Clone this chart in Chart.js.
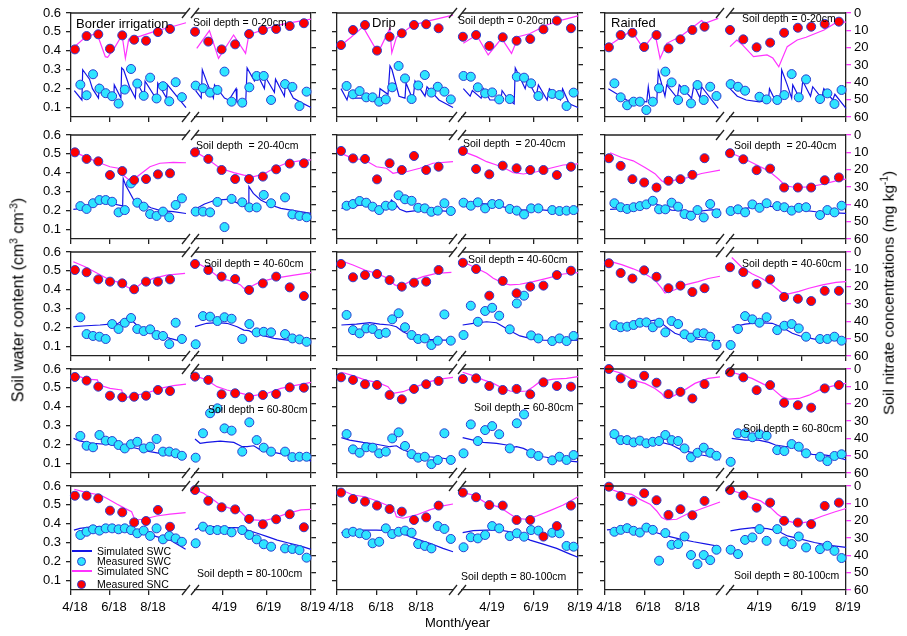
<!DOCTYPE html>
<html>
<head>
<meta charset="utf-8">
<script src="https://cdn.jsdelivr.net/npm/chart.js@4.4.1/dist/chart.umd.min.js"></script>
<style>
  body { margin: 0; background: #fff; }
  #wrap { position: relative; width: 907px; height: 636px; overflow: hidden; font-family: "Liberation Sans", Arial, sans-serif; }
  #wrap canvas { position: absolute; }
  .t { position: absolute; white-space: pre; color: #000; line-height: 1; z-index: 5; }
  .rot { position: absolute; white-space: nowrap; color: #000; line-height: 1; transform: translate(-50%, -50%) rotate(-90deg); z-index: 5; }
  .rot sup { font-size: 0.65em; }
  .swatch { position: absolute; z-index: 5; }
</style>
</head>
<body>
<div id="wrap"></div>
<script>
// ---- axes / categories ----
const TREATMENTS = ['Border irrigation', 'Drip', 'Rainfed'];
const DEPTH_LABELS = ['Soil depth = 0-20cm', 'Soil depth  = 20-40cm', 'Soil depth = 40-60cm', 'Soil depth = 60-80cm', 'Soil depth = 80-100cm'];
const X_TICKS_2018 = [0, 2, 4];
const X_LABELS_2018 = ['4/18', '6/18', '8/18'];
const X_TICKS_2019 = [12, 14, 16];
const X_LABELS_2019 = ['4/19', '6/19', '8/19'];
const SWC_TICKS = [0.1, 0.2, 0.3, 0.4, 0.5, 0.6];
const SNC_TICKS = [0, 10, 20, 30, 40, 50, 60];

// months counted from April 2018
const SWC_DATES_2018 = [0.48, 0.8, 1.13, 1.46, 1.78, 2.11, 2.44, 2.76, 3.08, 3.4, 3.73, 4.06, 4.39, 4.72, 5.04, 5.37, 5.69];
const SWC_DATES_2019 = [10.8, 11.13, 11.45, 11.78, 12.1, 12.42, 12.9, 13.22, 13.55, 13.87, 14.2, 14.83, 15.16, 15.48, 15.8];
const SNC_DATES_2018 = [0.2, 0.8, 1.4, 2.0, 2.63, 3.24, 3.85, 4.46, 5.08];
const SNC_DATES_2019 = [10.77, 11.37, 11.97, 12.58, 13.21, 13.83, 14.43, 15.04, 15.68];

// ---- measured soil water content (cm3 cm-3), one row per depth ----
const BORDER_SWC_MEAS_18 = [
  [0.221, 0.165, 0.276, 0.2, 0.176, 0.16, 0.121, 0.195, 0.304, 0.227, 0.162, 0.258, 0.148, 0.213, 0.133, 0.234, 0.155],
  [0.224, 0.209, 0.239, 0.256, 0.256, 0.247, 0.191, 0.203, 0.344, 0.242, 0.221, 0.182, 0.172, 0.195, 0.165, 0.23, 0.265],
  [0.255, 0.166, 0.156, 0.152, 0.14, 0.219, 0.193, 0.226, 0.251, 0.193, 0.182, 0.191, 0.161, 0.156, 0.113, 0.226, 0.14],
  [0.246, 0.194, 0.186, 0.251, 0.221, 0.219, 0.198, 0.18, 0.202, 0.215, 0.18, 0.189, 0.23, 0.163, 0.163, 0.154, 0.141],
  [0.341, 0.358, 0.371, 0.364, 0.376, 0.376, 0.371, 0.376, 0.367, 0.35, 0.364, 0.336, 0.376, 0.318, 0.336, 0.323, 0.305]
];
const BORDER_SWC_MEAS_19 = [
  [0.216, 0.202, 0.179, 0.193, 0.29, 0.131, 0.126, 0.207, 0.267, 0.267, 0.14, 0.224, 0.209, 0.108, 0.184],
  [0.195, 0.195, 0.191, 0.246, 0.113, 0.262, 0.244, 0.217, 0.217, 0.283, 0.239, 0.27, 0.18, 0.172, 0.165],
  [0.112, 0.261, 0.258, 0.235, 0.255, 0.247, 0.14, 0.219, 0.175, 0.178, 0.175, 0.166, 0.143, 0.138, 0.125],
  [0.131, 0.26, 0.366, 0.392, 0.286, 0.274, 0.163, 0.318, 0.224, 0.184, 0.163, 0.163, 0.134, 0.136, 0.136],
  [0.297, 0.385, 0.367, 0.367, 0.367, 0.355, 0.367, 0.341, 0.318, 0.292, 0.279, 0.27, 0.267, 0.261, 0.221]
];
const DRIP_SWC_MEAS_18 = [
  [0.214, 0.17, 0.187, 0.154, 0.154, 0.131, 0.143, 0.207, 0.32, 0.254, 0.145, 0.217, 0.272, 0.179, 0.21, 0.184, 0.143],
  [0.226, 0.235, 0.251, 0.242, 0.221, 0.203, 0.226, 0.226, 0.281, 0.26, 0.252, 0.215, 0.212, 0.194, 0.2, 0.239, 0.198],
  [0.267, 0.187, 0.17, 0.196, 0.193, 0.166, 0.173, 0.244, 0.276, 0.202, 0.161, 0.14, 0.143, 0.108, 0.131, 0.27, 0.131],
  [0.256, 0.175, 0.157, 0.186, 0.184, 0.154, 0.163, 0.233, 0.265, 0.193, 0.15, 0.131, 0.136, 0.097, 0.119, 0.26, 0.119],
  [0.35, 0.358, 0.35, 0.341, 0.297, 0.305, 0.376, 0.346, 0.358, 0.364, 0.353, 0.293, 0.283, 0.27, 0.388, 0.373, 0.32]
];
const DRIP_SWC_MEAS_19 = [
  [0.267, 0.263, 0.207, 0.175, 0.18, 0.143, 0.145, 0.263, 0.258, 0.228, 0.161, 0.172, 0.166, 0.108, 0.179],
  [0.242, 0.226, 0.244, 0.212, 0.235, 0.235, 0.209, 0.2, 0.18, 0.212, 0.212, 0.203, 0.198, 0.2, 0.203],
  [0.161, 0.316, 0.231, 0.288, 0.305, 0.263, 0.191, 0.328, 0.369, 0.159, 0.143, 0.129, 0.143, 0.129, 0.156],
  [0.154, 0.307, 0.219, 0.277, 0.298, 0.255, 0.18, 0.313, 0.36, 0.154, 0.14, 0.117, 0.136, 0.119, 0.145],
  [0.276, 0.329, 0.323, 0.341, 0.388, 0.376, 0.335, 0.35, 0.332, 0.367, 0.364, 0.353, 0.35, 0.283, 0.279]
];
const RAIN_SWC_MEAS_18 = [
  [0.228, 0.154, 0.112, 0.131, 0.131, 0.087, 0.131, 0.202, 0.29, 0.233, 0.14, 0.193, 0.122, 0.219, 0.14, 0.21, 0.161],
  [0.239, 0.218, 0.209, 0.218, 0.224, 0.233, 0.252, 0.207, 0.207, 0.242, 0.221, 0.182, 0.173, 0.203, 0.164, 0.235, 0.186],
  [0.214, 0.202, 0.205, 0.214, 0.226, 0.228, 0.202, 0.226, 0.175, 0.235, 0.219, 0.165, 0.147, 0.17, 0.17, 0.152, 0.108],
  [0.256, 0.224, 0.224, 0.212, 0.221, 0.207, 0.215, 0.219, 0.251, 0.224, 0.219, 0.18, 0.133, 0.157, 0.184, 0.157, 0.141],
  [0.358, 0.368, 0.377, 0.363, 0.354, 0.38, 0.368, 0.205, 0.351, 0.289, 0.293, 0.333, 0.235, 0.187, 0.235, 0.208, 0.263]
];
const RAIN_SWC_MEAS_19 = [
  [0.224, 0.21, 0.189, null, 0.157, 0.143, 0.14, 0.166, 0.277, 0.154, 0.249, 0.145, 0.175, 0.119, 0.193],
  [0.198, 0.207, 0.191, 0.233, 0.215, 0.239, 0.224, 0.218, 0.2, 0.215, 0.218, 0.177, 0.203, 0.191, 0.226],
  [0.108, 0.193, 0.261, 0.244, 0.226, 0.255, 0.187, 0.21, 0.219, 0.196, 0.152, 0.14, 0.14, 0.152, 0.131],
  [0.109, 0.26, 0.26, 0.239, 0.255, 0.247, 0.171, 0.166, 0.203, 0.189, 0.154, 0.136, 0.113, 0.14, 0.149],
  [0.263, 0.24, 0.315, 0.328, 0.372, 0.31, 0.372, 0.307, 0.293, 0.333, 0.275, 0.266, 0.284, 0.257, 0.219]
];

// ---- measured soil nitrate (mg kg-1) ----
const BORDER_SNC_MEAS_18 = [
  [21, 13.3, 12.3, 20.6, 12.9, 15.4, 16, 11, 9.2],
  [10, 13.8, 15.2, 23.1, 20.8, 26, 25.4, 22.7, 22.1],
  [10.4, 11.7, 15.8, 17.1, 18.1, 21.5, 17.1, 17.1, 15.8],
  [4.6, 6.7, 10.2, 15.4, 16.3, 16, 15.4, 12.1, 12.7],
  [5.6, 5.6, 7.1, 14.2, 15.2, 21, 20.2, 13.8, 23.5]
];
const BORDER_SNC_MEAS_19 = [
  [10.8, 16.5, 21, 18.1, 12.1, 9.8, 9.2, 7.5, 5.9],
  [10, 13.8, 20.2, 25.4, 25.4, 24, 19.8, 16.5, 16.3],
  [6.9, 10.4, 14.2, 15.6, 21.9, 18.1, 14.2, 20.4, 25.4],
  [4.4, 6.3, 14.6, 14, 16.3, 15, 14.4, 10.6, 10.8],
  [2.3, 8.5, 12.3, 13.5, 19, 22.1, 19.2, 16.3, 23.8]
];
const DRIP_SNC_MEAS_18 = [
  [18.5, 9.8, 6.9, 21.7, 13.7, 11.7, 6.9, 6.5, 8.8],
  [9.2, 13.5, 13.8, 25.6, 16.3, 20.2, 12.1, 20.2, 18.3],
  [6.9, 14.6, 13.3, 12.7, 16.2, 20, 17.7, 17.1, 10.4],
  [4.8, 6.3, 8.8, 9.2, 15, 17.5, 11.5, 8.8, 6.9],
  [3.8, 7.5, 9, 11.3, 13.3, 14.8, 19.6, 18.1, 11.3]
];
const DRIP_SNC_MEAS_19 = [
  [13.7, 12.7, 19, 14, 16, 15, 9.4, 4.4, 8.8],
  [9.2, 19.6, 22.7, 17.7, 19.2, 20.2, 20.2, 23.1, 18.3],
  [6.2, 9.8, 25.2, 16.7, 23.8, 20, 19.4, 13.3, 10.8],
  [5.8, 5.4, 9.8, 12.1, 11.5, 14.6, 7.7, 9.8, 10.2],
  [3.8, 6.5, 11, 11.3, 19.6, 19.6, 29.2, 23.1, 11.3]
];
const RAIN_SNC_MEAS_18 = [
  [19.8, 12.7, 11.4, 19.6, 12.7, 20.4, 15.2, 9.8, 7.9],
  [13.4, 17.8, 25.5, 27.4, 30.3, 26.4, 25.5, 23, 13.4],
  [6.5, 12.1, 15.3, 10.6, 14.3, 20.9, 19.4, 23.1, 20.9],
  [0, 5.4, 8.7, 3.9, 7.9, 14.5, 13.2, 17, 8.7],
  [0.4, 5.8, 9, 4.2, 8.2, 16.7, 13.4, 16.9, 8.6]
];
const RAIN_SNC_MEAS_19 = [
  [9.8, 15.2, 19.8, 17.1, 11.4, 8.5, 7.9, 6.3, 5.0],
  [10.5, 14, 20.3, 19.4, 30.3, 30.3, 30.3, 26.1, 24.5],
  [8.8, 11.6, 18.4, 15.8, 25.9, 27, 28.3, 22.4, 22.4],
  [1.9, 4.8, 12.2, 9.3, 19.5, 20.9, 22.3, 11.2, 9.3],
  [2.3, 5.4, 12.5, 9.6, 20.1, 21.1, 22.0, 11.5, 9.6]
];

// ---- simulated SWC, [month, value] ----
const BORDER_SWC_SIM_18 = [
  [[0.17,0.19],[0.56,0.14],[0.6,0.3],[0.95,0.25],[1.1,0.2],[1.41,0.15],[1.45,0.22],[1.7,0.17],[2.19,0.14],[2.22,0.22],[2.56,0.15],[2.6,0.31],[2.7,0.3],[3.0,0.21],[3.3,0.15],[3.35,0.24],[3.76,0.16],[3.8,0.24],[4.41,0.14],[4.45,0.23],[4.9,0.15],[4.95,0.22],[5.9,0.1]],
  [[0.12,0.207],[0.8,0.215],[1.5,0.24],[2.2,0.235],[2.65,0.225],[2.68,0.37],[2.8,0.335],[3.2,0.26],[3.55,0.245],[4.1,0.215],[4.6,0.2],[5.25,0.195],[5.9,0.185]],
  [[0.12,0.205],[0.8,0.21],[1.49,0.214],[2.0,0.219],[2.43,0.223],[2.68,0.24],[3.03,0.258],[3.2,0.231],[3.54,0.196],[4.05,0.178],[4.56,0.161],[5.08,0.143],[5.76,0.125]],
  [[0.13,0.233],[0.43,0.219],[1.11,0.207],[1.8,0.202],[2.48,0.194],[3.0,0.189],[3.5,0.177],[4.05,0.163],[4.56,0.154],[5.25,0.141],[5.9,0.128]],
  [[0.15,0.367],[0.46,0.376],[1.14,0.385],[1.83,0.385],[2.51,0.378],[3.2,0.364],[3.71,0.353],[4.39,0.332],[5.08,0.314],[5.88,0.265]]
];
const BORDER_SWC_SIM_19 = [
  [[10.8,0.19],[11.05,0.15],[11.1,0.3],[11.35,0.22],[11.6,0.15],[11.65,0.22],[12.1,0.15],[12.3,0.14],[12.62,0.2],[12.66,0.13],[13.05,0.11],[13.12,0.31],[13.45,0.24],[13.6,0.27],[13.9,0.2],[13.95,0.26],[14.35,0.18],[14.4,0.25],[14.8,0.16],[14.85,0.23],[15.2,0.15],[15.5,0.13],[16,0.1]],
  [[10.77,0.207],[11.2,0.235],[11.7,0.256],[12.21,0.26],[12.6,0.245],[12.97,0.224],[13.17,0.222],[13.2,0.327],[13.4,0.291],[13.73,0.256],[14.18,0.23],[14.64,0.212],[15.24,0.2],[16,0.186]],
  [[10.77,0.205],[11.3,0.223],[11.76,0.226],[12.21,0.223],[12.67,0.205],[12.97,0.187],[13.2,0.184],[13.42,0.17],[13.73,0.161],[14.33,0.143],[14.94,0.134],[15.55,0.125],[16,0.12]],
  [[10.77,0.23],[11.0,0.207],[11.3,0.212],[11.91,0.219],[12.52,0.212],[12.9,0.189],[13.12,0.189],[13.42,0.194],[13.73,0.171],[14.33,0.159],[14.94,0.145],[15.55,0.136],[16,0.113]],
  [[10.77,0.367],[11.0,0.385],[11.61,0.385],[12.21,0.381],[12.82,0.379],[13.2,0.364],[13.58,0.35],[14.03,0.332],[14.48,0.314],[14.94,0.3],[15.55,0.282],[16,0.265]]
];
const DRIP_SWC_SIM_18 = [
  [[0.2,0.2],[0.5,0.14],[0.6,0.18],[0.8,0.15],[1.3,0.15],[2.1,0.14],[2.15,0.2],[2.55,0.17],[2.65,0.32],[2.75,0.3],[3.1,0.16],[3.4,0.15],[3.45,0.23],[3.8,0.14],[3.9,0.24],[4.4,0.16],[4.5,0.21],[5.1,0.14],[5.8,0.1]],
  [[0.22,0.212],[0.8,0.224],[1.3,0.23],[1.8,0.218],[2.14,0.207],[2.55,0.218],[2.72,0.256],[2.89,0.239],[3.14,0.207],[3.47,0.194],[3.97,0.2],[4.64,0.203],[5.14,0.2],[5.8,0.193]],
  [[0.22,0.214],[0.97,0.219],[1.64,0.226],[2.14,0.219],[2.64,0.214],[2.97,0.205],[3.3,0.178],[3.64,0.161],[4.14,0.149],[4.64,0.138],[5.3,0.134],[5.8,0.134]],
  [[0.22,0.237],[0.63,0.224],[1.3,0.212],[1.97,0.202],[2.64,0.189],[2.97,0.194],[3.22,0.177],[3.64,0.159],[4.14,0.145],[4.64,0.136],[5.3,0.128],[5.8,0.119]],
  [[0.22,0.353],[0.8,0.364],[1.3,0.367],[1.97,0.367],[2.64,0.364],[3.14,0.358],[3.64,0.332],[4.14,0.314],[4.64,0.297],[5.3,0.27],[5.8,0.252]]
];
const DRIP_SWC_SIM_19 = [
  [[10.79,0.2],[11.1,0.16],[11.2,0.19],[11.6,0.15],[11.7,0.2],[12.0,0.14],[12.5,0.14],[12.55,0.19],[12.85,0.14],[13.1,0.12],[13.15,0.31],[13.4,0.25],[13.6,0.2],[13.7,0.25],[14.1,0.16],[14.2,0.22],[14.6,0.14],[14.7,0.2],[15.2,0.14],[15.3,0.2],[15.6,0.12],[16,0.1]],
  [[10.79,0.23],[11.39,0.239],[11.99,0.235],[12.45,0.224],[12.91,0.212],[13.52,0.203],[14.12,0.207],[14.73,0.2],[15.33,0.2],[16,0.203]],
  [[10.76,0.214],[11.24,0.223],[11.85,0.231],[12.3,0.226],[12.61,0.205],[12.91,0.184],[13.36,0.156],[13.82,0.143],[14.42,0.134],[15.33,0.131],[16,0.134]],
  [[10.76,0.237],[11.24,0.224],[11.7,0.212],[12.3,0.207],[12.76,0.198],[12.98,0.184],[13.21,0.189],[13.52,0.18],[13.82,0.163],[14.42,0.136],[15.03,0.124],[15.64,0.113],[16,0.109]],
  [[10.76,0.353],[11.24,0.364],[11.85,0.367],[12.45,0.367],[12.91,0.358],[13.36,0.341],[13.82,0.314],[14.42,0.293],[15.03,0.27],[15.64,0.24],[16,0.223]]
];
const RAIN_SWC_SIM_18 = [
  [[0.17,0.2],[1.11,0.14],[2.13,0.13],[2.21,0.21],[2.3,0.14],[2.64,0.13],[2.72,0.29],[3.06,0.16],[3.15,0.22],[3.69,0.15],[3.79,0.22],[4.42,0.15],[4.54,0.22],[4.85,0.15],[4.93,0.21],[5.78,0.096]],
  [[0.26,0.207],[1.2,0.212],[2.04,0.224],[2.55,0.239],[2.89,0.221],[3.4,0.203],[3.91,0.2],[4.59,0.194],[5.27,0.203],[5.87,0.207]],
  [[0.26,0.214],[1.2,0.219],[2.04,0.231],[2.55,0.24],[2.89,0.223],[3.23,0.196],[3.57,0.17],[4.08,0.152],[4.76,0.138],[5.27,0.134],[5.87,0.131]],
  [[0.26,0.242],[0.85,0.219],[1.53,0.212],[2.21,0.212],[2.89,0.212],[3.4,0.198],[3.91,0.171],[4.42,0.159],[4.93,0.145],[5.44,0.136],[5.87,0.119]],
  [[0.1,0.368],[0.77,0.375],[1.46,0.372],[2.13,0.375],[2.47,0.358],[3.15,0.336],[3.84,0.319],[4.52,0.305],[5.19,0.293],[5.87,0.28]]
];
const RAIN_SWC_SIM_19 = [
  [[10.77,0.2],[11.1,0.16],[11.5,0.14],[12.1,0.13],[12.5,0.14],[12.55,0.2],[12.8,0.14],[13.05,0.13],[13.1,0.3],[13.35,0.22],[13.55,0.15],[13.6,0.22],[13.95,0.14],[14.05,0.24],[14.4,0.16],[14.5,0.21],[14.9,0.15],[15.0,0.2],[15.4,0.14],[15.5,0.17],[16,0.095]],
  [[10.77,0.207],[11.45,0.212],[12.21,0.224],[12.82,0.221],[13.42,0.212],[14.03,0.203],[14.64,0.194],[15.24,0.189],[16,0.186]],
  [[10.85,0.202],[11.45,0.219],[12.06,0.226],[12.67,0.223],[13.12,0.202],[13.58,0.17],[14.03,0.152],[14.64,0.138],[15.24,0.134],[16,0.131]],
  [[10.85,0.233],[11.45,0.224],[12.06,0.224],[12.52,0.212],[12.82,0.198],[13.27,0.189],[13.58,0.189],[14.03,0.163],[14.48,0.149],[15.09,0.145],[15.55,0.136],[16,0.119]],
  [[10.79,0.363],[11.24,0.372],[11.85,0.38],[12.45,0.375],[12.91,0.363],[13.36,0.336],[13.97,0.319],[14.58,0.301],[15.18,0.287],[16,0.275]]
];

// ---- simulated SNC, [month, value] ----
const BORDER_SNC_SIM_18 = [
  [[0,21.3],[0.73,14],[1.33,11.7],[1.76,25.2],[1.88,25.6],[2.27,19.4],[2.62,12.7],[2.79,26.1],[2.96,15.2],[3.56,13.3],[4.41,10.2],[5.09,8.2],[5.9,5.6]],
  [[0.12,9.6],[0.72,12.5],[1.32,15.4],[2.0,18.3],[2.43,19.2],[2.68,23.1],[2.94,25.6],[3.28,25],[3.62,22.1],[4.05,18.3],[4.56,16.3],[5.25,15.8],[5.9,16]],
  [[0.12,5.6],[0.72,8.5],[1.35,12.3],[2,16.2],[2.68,18.1],[2.86,20],[3.2,21.9],[3.62,18.1],[4.22,15.2],[4.91,13.3],[5.85,12.3]],
  [[0.12,3.1],[0.8,5.8],[1.35,6.3],[1.45,9.2],[2.0,11.2],[2.6,12.1],[2.72,16.9],[3.2,15.4],[3.88,14],[4.56,11.2],[5.25,9.6],[5.9,8.7]],
  [[0.17,1.9],[0.8,3.8],[1.5,5.2],[1.83,7.1],[2.35,10.4],[2.77,12.9],[3.11,14.8],[3.28,19.6],[3.71,19.2],[4.39,17.3],[5.08,16.2],[5.88,15.4]]
];
const BORDER_SNC_SIM_19 = [
  [[10.85,20.4],[11.42,10.2],[11.83,26.2],[12.51,12.7],[13.05,23.3],[13.2,12.5],[14.03,8.8],[14.79,6.3],[16,3.5]],
  [[10.77,9.6],[11.3,13.5],[11.9,19.2],[12.52,21.7],[12.97,23.1],[13.42,24],[13.88,22.5],[14.33,19.2],[14.94,16],[15.55,14.8],[16,14.4]],
  [[10.77,5.6],[11.3,9.4],[11.61,12.3],[11.91,15.2],[12.52,17.1],[12.82,19],[12.97,21],[13.27,20],[13.73,17.1],[14.33,15.2],[15.24,13.3],[16,11.9]],
  [[10.77,3.8],[11.3,6.3],[11.76,10.2],[12.21,12.1],[12.67,13.5],[13.05,14.6],[13.42,15.4],[14.03,14],[14.64,11.2],[15.24,9.6],[16,7.7]],
  [[10.8,2.3],[11.15,4.2],[11.61,8.1],[11.91,11],[12.36,12.9],[12.74,13.8],[13.05,17.7],[13.42,19.6],[13.88,20],[14.33,18.6],[14.94,15.8],[15.55,13.8],[16,13.5]]
];
const DRIP_SNC_SIM_18 = [
  [[0.05,20],[0.7,14],[1.3,8],[2.05,23],[2.64,9],[2.74,23],[2.97,14],[3.8,7],[4.64,4.4],[5.8,1.2]],
  [[0.1,10.2],[0.8,13.5],[1.39,14.4],[1.97,18.3],[2.47,19.2],[2.8,22.1],[2.97,21.7],[3.47,21.2],[4.14,19.2],[4.8,16.3],[5.8,15.4]],
  [[0.1,4.6],[0.8,7.5],[1.39,10.4],[1.97,12.3],[2.55,15.2],[2.89,19],[3.14,20],[3.64,17.1],[4.3,14.2],[4.97,12.3],[5.72,11.7]],
  [[0.22,1.9],[0.8,3.8],[1.39,6.3],[1.8,7.3],[2.14,8.3],[2.55,10.2],[2.8,14],[3.3,13.1],[3.97,10.2],[4.64,7.3],[5.14,5.8],[5.8,4.8]],
  [[0.22,2.3],[0.8,5.2],[1.39,6.2],[1.97,8.5],[2.47,11],[2.89,14.8],[2.97,17.7],[3.3,18.6],[3.97,16.7],[4.64,13.8],[5.3,11.5],[5.8,10.4]]
];
const DRIP_SNC_SIM_19 = [
  [[10.79,17.5],[11.39,12.7],[11.92,24.2],[12.53,14.6],[12.98,23.3],[13.29,13.7],[13.8,12],[14.58,6.9],[15.3,4],[16,1.7]],
  [[10.79,9.6],[11.39,12.5],[11.85,15.4],[12.3,17.3],[12.76,19.8],[13.06,21.7],[13.52,22.5],[14.12,21.2],[14.73,19.2],[15.33,17.3],[16,16.7]],
  [[10.76,5.6],[11.39,9.4],[11.85,12.3],[12.15,15.2],[12.61,18.1],[12.91,19],[13.36,18.6],[13.97,17.1],[14.58,15.2],[15.33,12.7],[16,11.9]],
  [[10.76,1.9],[11.24,3.8],[11.7,6.3],[12.15,8.3],[12.45,10.2],[12.91,12.7],[13.21,13.1],[13.67,12.7],[13.97,10.2],[14.27,7.3],[14.88,5.8],[15.48,5.4],[16,4.4]],
  [[10.76,3.8],[11.24,5.2],[11.85,10],[12.45,12.3],[12.91,16.2],[13.21,18.6],[13.67,19.2],[14.12,17.3],[14.73,14.2],[15.33,11],[16,6.2]]
];
const RAIN_SNC_SIM_18 = [
  [[0,20.4],[0.7,15],[1.36,10.2],[1.95,20.4],[2.55,11.7],[2.81,26.2],[3.15,17.5],[3.83,13.7],[4.4,9],[4.93,4.4],[5.1,6],[5.78,3.1]],
  [[0.26,10.2],[0.85,13],[1.44,14.9],[2.04,18.8],[2.55,22.3],[2.89,26.4],[3.06,27.4],[3.57,26],[4.25,24.5],[4.93,22.2],[5.87,20.3]],
  [[0.26,5.4],[0.85,7.3],[1.44,9.7],[2.04,12.5],[2.55,16.2],[2.89,20.9],[3.06,23.7],[3.57,21.8],[4.08,19],[4.76,17.1],[5.27,15.3],[5.87,14]],
  [[0.26,0.6],[0.85,2.5],[1.44,6.4],[2.04,8.3],[2.55,11.2],[2.89,14.1],[3.06,16.6],[3.4,16.1],[3.91,13.2],[4.59,8.3],[5.27,5.4],[5.87,4.5]],
  [[0.09,1],[0.77,3.8],[1.36,4.8],[1.79,7.7],[2.3,10.5],[2.64,14.4],[2.89,18.2],[3.15,19.5],[3.66,19.2],[4.17,16.3],[4.85,13.4],[5.87,9.2]]
];
const RAIN_SNC_SIM_19 = [
  [[10.77,19.4],[11.08,15.6],[11.3,18],[11.83,25.2],[12.44,24.2],[12.7,26],[12.97,31],[13.35,19.4],[13.8,15.6],[14.2,14],[15.01,9.8],[15.62,5],[16,5.3]],
  [[10.77,10.2],[11.3,13],[11.91,16.9],[12.51,20.7],[12.97,25.5],[13.27,29.3],[13.73,30.3],[14.33,29.9],[14.94,28.4],[15.55,26.5],[16,25.5]],
  [[10.85,3.2],[11.3,8.8],[11.76,12.5],[12.21,15.3],[12.67,19],[13.12,23.7],[13.42,24.2],[13.88,22.7],[14.33,20.9],[14.94,19],[15.55,17.5],[16,17.1]],
  [[10.85,1.9],[11.3,3.5],[11.76,5.4],[12.21,8.3],[12.67,11.2],[13.12,16.1],[13.42,17.4],[13.88,17],[14.33,15.1],[14.79,12.2],[15.24,10.3],[15.7,8.9],[16,8.3]],
  [[10.79,2.3],[11.24,4.2],[11.7,6.7],[12.15,8.6],[12.6,12.5],[12.91,16.3],[13.36,20.1],[13.82,21.7],[14.27,20.7],[14.88,17.6],[15.48,15],[16,13]]
];

// ---- layout ----
const COLS = [
  [{ x0: 71, x1: 186, min: 0, max: 5.9 }, { x0: 195, x1: 311, min: 10.77, max: 16 }],
  [{ x0: 337, x1: 453, min: 0, max: 5.8 }, { x0: 462, x1: 578, min: 10.73, max: 16 }],
  [{ x0: 605, x1: 720, min: 0, max: 5.87 }, { x0: 730, x1: 846, min: 10.77, max: 16 }]
];
const ROW_TOPS = [13, 135, 252, 369, 486];
const ROW_H = 104;
const PAD = 40;
const AXIS = '#222222';
const BLUE = '#1414e6';
const MAGENTA = '#ff33ff';
const CYAN = '#2ee4ff';
const RED = '#ff0000';
const EDGE = '#2a3fd0';

const TABLE = [
  { swcMeas: [BORDER_SWC_MEAS_18, BORDER_SWC_MEAS_19], sncMeas: [BORDER_SNC_MEAS_18, BORDER_SNC_MEAS_19], swcSim: [BORDER_SWC_SIM_18, BORDER_SWC_SIM_19], sncSim: [BORDER_SNC_SIM_18, BORDER_SNC_SIM_19] },
  { swcMeas: [DRIP_SWC_MEAS_18, DRIP_SWC_MEAS_19], sncMeas: [DRIP_SNC_MEAS_18, DRIP_SNC_MEAS_19], swcSim: [DRIP_SWC_SIM_18, DRIP_SWC_SIM_19], sncSim: [DRIP_SNC_SIM_18, DRIP_SNC_SIM_19] },
  { swcMeas: [RAIN_SWC_MEAS_18, RAIN_SWC_MEAS_19], sncMeas: [RAIN_SNC_MEAS_18, RAIN_SNC_MEAS_19], swcSim: [RAIN_SWC_SIM_18, RAIN_SWC_SIM_19], sncSim: [RAIN_SNC_SIM_18, RAIN_SNC_SIM_19] }
];
const SWC_DATES = [SWC_DATES_2018, SWC_DATES_2019];
const SNC_DATES = [SNC_DATES_2018, SNC_DATES_2019];
const X_TICKS = [X_TICKS_2018, X_TICKS_2019];
const X_LABELS = [X_LABELS_2018, X_LABELS_2019];

Chart.defaults.font.family = '"Liberation Sans", Arial, sans-serif';
Chart.defaults.color = '#000';

const wrap = document.getElementById('wrap');

const pairs = (arr) => arr.map(([x, y]) => ({ x, y }));
const dated = (dates, vals) => dates.map((x, i) => ({ x, y: vals[i] })).filter((p) => p.y != null);

// top border and the // break marks
const framePlugin = {
  id: 'frame',
  afterDraw(chart, args, opts) {
    const { ctx, chartArea: a } = chart;
    ctx.save();
    ctx.strokeStyle = AXIS;
    ctx.lineWidth = 1.3;
    ctx.beginPath();
    ctx.moveTo(a.left, a.top);
    ctx.lineTo(a.right, a.top);
    ctx.stroke();
    const bx = opts.half === 0 ? a.right : a.left;
    [a.top, a.bottom].forEach((y) => {
      ctx.beginPath();
      ctx.moveTo(bx - 4, y + 5);
      ctx.lineTo(bx + 4, y - 5);
      ctx.stroke();
    });
    ctx.restore();
  }
};

function makeHalf(col, row, half) {
  const g = COLS[col][half];
  const hasLeft = half === 0;
  const hasRight = half === 1;
  // scale boxes must hold their labels (Chart.js clips labels to the scale box)
  const yW = hasLeft ? (col === 0 ? 36 : 6) : 0;
  const y2W = hasRight ? (col === 2 ? 32 : 6) : 0;
  const xH = row === 4 ? 24 : 6;
  const w = (g.x1 - g.x0) + 2 * PAD + yW + y2W;
  const h = ROW_H + 2 * PAD + xH;

  const canvas = document.createElement('canvas');
  canvas.width = w;
  canvas.height = h;
  canvas.style.left = (g.x0 - PAD - yW) + 'px';
  canvas.style.top = (ROW_TOPS[row] - PAD) + 'px';
  canvas.style.width = w + 'px';
  canvas.style.height = h + 'px';
  wrap.appendChild(canvas);

  const t = TABLE[col];
  const noPad = (s) => { s.paddingLeft = 0; s.paddingRight = 0; s.paddingTop = 0; s.paddingBottom = 0; };

  new Chart(canvas, {
    type: 'scatter',
    data: {
      datasets: [
        { label: 'Measured SNC', data: dated(SNC_DATES[half], t.sncMeas[half][row]), yAxisID: 'y2',
          pointRadius: 4.5, pointBackgroundColor: RED, pointBorderColor: EDGE, pointBorderWidth: 1, clip: false },
        { label: 'Measured SWC', data: dated(SWC_DATES[half], t.swcMeas[half][row]), yAxisID: 'y',
          pointRadius: 4.5, pointBackgroundColor: CYAN, pointBorderColor: EDGE, pointBorderWidth: 1, clip: false },
        { label: 'Simulated SNC', data: pairs(t.sncSim[half][row]), yAxisID: 'y2', showLine: true,
          borderColor: MAGENTA, borderWidth: 1.2, pointRadius: 0, clip: false },
        { label: 'Simulated SWC', data: pairs(t.swcSim[half][row]), yAxisID: 'y', showLine: true,
          borderColor: BLUE, borderWidth: 1.2, pointRadius: 0, clip: false }
      ]
    },
    options: {
      responsive: false,
      animation: false,
      events: [],
      layout: { padding: PAD },
      plugins: { legend: { display: false }, tooltip: { enabled: false }, frame: { half } },
      scales: {
        x: {
          type: 'linear', position: 'bottom', min: g.min, max: g.max,
          afterBuildTicks: (s) => { s.ticks = X_TICKS[half].map((v) => ({ value: v })); },
          afterFit: (s) => { s.height = xH; noPad(s); },
          grid: { drawOnChartArea: false, drawTicks: true, tickLength: 5, color: AXIS, lineWidth: 1.3 },
          border: { display: true, color: AXIS, width: 1.3 },
          ticks: { display: row === 4, autoSkip: false, maxRotation: 0, padding: 5, font: { size: 13 },
                   labelOffset: half === 0 ? 4 : 2,
                   callback: (v, i) => X_LABELS[half][i] }
        },
        y: {
          type: 'linear', position: 'left', min: 0.05, max: 0.6, display: hasLeft,
          afterBuildTicks: (s) => { s.ticks = SWC_TICKS.map((v) => ({ value: v })); },
          afterFit: (s) => { s.width = yW; noPad(s); },
          grid: { drawOnChartArea: false, drawTicks: true, tickLength: 5, color: AXIS, lineWidth: 1.3 },
          border: { display: true, color: AXIS, width: 1.3 },
          ticks: { display: col === 0, autoSkip: false, padding: 5, font: { size: 13 }, callback: (v) => v.toFixed(1) }
        },
        y2: {
          type: 'linear', position: 'right', min: 0, max: 60, reverse: true, display: hasRight,
          afterBuildTicks: (s) => { s.ticks = SNC_TICKS.map((v) => ({ value: v })); },
          afterFit: (s) => { s.width = y2W; noPad(s); },
          grid: { drawOnChartArea: false, drawTicks: true, tickLength: 5, color: col === 2 ? MAGENTA : AXIS, lineWidth: 1.3 },
          border: { display: true, color: AXIS, width: 1.3 },
          ticks: { display: col === 2, autoSkip: false, padding: 3, font: { size: 13 }, callback: (v) => String(v) }
        }
      }
    },
    plugins: [framePlugin]
  });
}

for (let col = 0; col < 3; col++) {
  for (let row = 0; row < 5; row++) {
    makeHalf(col, row, 0);
    makeHalf(col, row, 1);
  }
}

// ---- texts ----
function addText(txt, x, cy, size) {
  const d = document.createElement('div');
  d.className = 't';
  d.textContent = txt;
  d.style.left = x + 'px';
  d.style.top = (cy - size / 2) + 'px';
  d.style.fontSize = size + 'px';
  wrap.appendChild(d);
}

addText(TREATMENTS[0], 76, 23, 13);
addText(TREATMENTS[1], 372, 22, 13);
addText(TREATMENTS[2], 611, 22, 13);

const DEPTH_POS = [
  [[193, 22], [458, 20], [742, 18]],
  [[196, 145], [463, 143], [734, 145]],
  [[204, 263], [468, 259], [742, 263]],
  [[208, 409], [474, 407], [743, 428]],
  [[197, 573], [461, 576], [734, 575]]
];
DEPTH_POS.forEach((rowPos, row) => {
  rowPos.forEach(([x, y]) => addText(DEPTH_LABELS[row], x, y, 10.5));
});

addText('Month/year', 425, 622, 13);

const leftTitle = document.createElement('div');
leftTitle.className = 'rot';
leftTitle.style.left = '18px';
leftTitle.style.top = '300px';
leftTitle.style.fontSize = '16px';
leftTitle.innerHTML = 'Soil water content (cm<sup>3</sup> cm<sup>-3</sup>)';
wrap.appendChild(leftTitle);

const rightTitle = document.createElement('div');
rightTitle.className = 'rot';
rightTitle.style.left = '888px';
rightTitle.style.top = '293px';
rightTitle.style.fontSize = '15.5px';
rightTitle.innerHTML = 'Soil nitrate concentrations (mg kg<sup>-1</sup>)';
wrap.appendChild(rightTitle);

// legend (bottom-left panel)
const LEGEND = [
  { text: 'Simulated SWC', kind: 'line', color: BLUE, y: 551 },
  { text: 'Measured SWC', kind: 'dot', color: CYAN, y: 561 },
  { text: 'Simulated SNC', kind: 'line', color: MAGENTA, y: 571 },
  { text: 'Measured SNC', kind: 'dot', color: RED, y: 584 }
];
LEGEND.forEach((item) => {
  const s = document.createElement('div');
  s.className = 'swatch';
  if (item.kind === 'line') {
    s.style.left = '72px'; s.style.top = (item.y - 0.6) + 'px';
    s.style.width = '20px'; s.style.height = '1.3px'; s.style.background = item.color;
  } else {
    s.style.left = '77px'; s.style.top = (item.y - 4.5) + 'px';
    s.style.width = '7px'; s.style.height = '7px'; s.style.borderRadius = '50%';
    s.style.background = item.color; s.style.border = '1px solid ' + EDGE;
  }
  wrap.appendChild(s);
  addText(item.text, 97, item.y, 10.5);
});
</script>
</body>
</html>
